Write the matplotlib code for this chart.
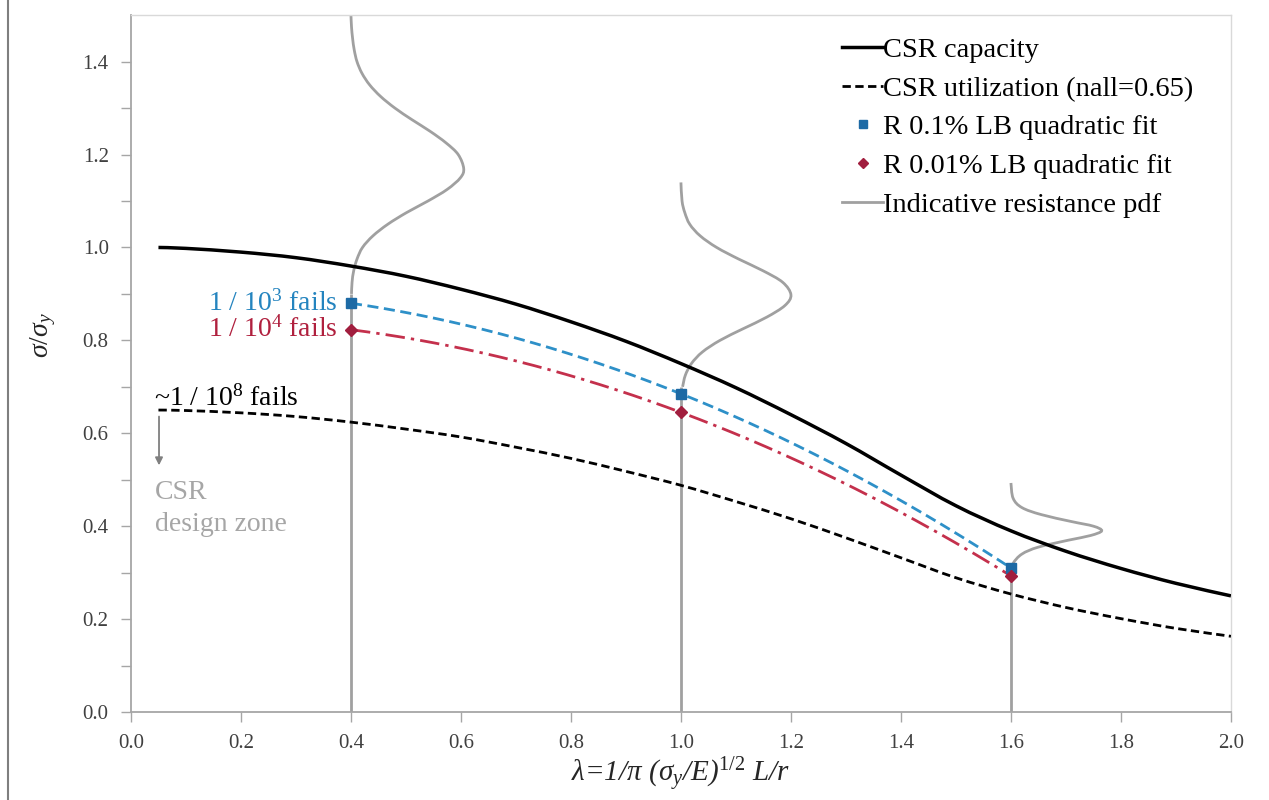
import numpy as np
import matplotlib
matplotlib.use("Agg")
import matplotlib.pyplot as plt
from matplotlib.lines import Line2D
from matplotlib.path import Path
from matplotlib.patches import PathPatch

plt.rcParams['font.family'] = ['Liberation Serif', 'DejaVu Serif']
plt.rcParams['mathtext.fontset'] = 'custom'
plt.rcParams['mathtext.rm'] = 'Liberation Serif'
plt.rcParams['mathtext.it'] = 'Liberation Serif:italic'
plt.rcParams['mathtext.bf'] = 'Liberation Serif:bold'

# Slenderness grid and CSR buckling curves
lam = [0.05, 0.1, 0.2, 0.3, 0.4, 0.5, 0.6, 0.7, 0.8, 0.9, 1.0,
       1.1, 1.2, 1.3, 1.4, 1.5, 1.6, 1.7, 1.8, 1.9, 2.0]
csr_capacity = [1.000, 0.998, 0.990, 0.978, 0.960, 0.938, 0.910, 0.878, 0.840, 0.798, 0.750,
                0.698, 0.640, 0.578, 0.510, 0.444, 0.390, 0.346, 0.309, 0.277, 0.250]
csr_utilization = [0.650, 0.649, 0.644, 0.636, 0.624, 0.609, 0.592, 0.570, 0.546, 0.518, 0.488,
                   0.453, 0.416, 0.375, 0.332, 0.289, 0.254, 0.225, 0.201, 0.180, 0.163]

# Lower-bound resistance points
lam_pts = [0.4, 1.0, 1.6]
r_01 = [0.880, 0.685, 0.310]
r_001 = [0.823, 0.645, 0.293]

# Indicative resistance pdfs: (sigma/sigma_y level, sideways offset in lambda)
pdf1_y = [0.900, 0.925, 0.950, 0.975, 1.000, 1.025, 1.050, 1.075, 1.100, 1.125, 1.150, 1.170,
          1.200, 1.225, 1.250, 1.275, 1.300, 1.325, 1.350, 1.375, 1.400, 1.425, 1.450, 1.475, 1.500]
pdf1_w = [0.001, 0.002, 0.005, 0.011, 0.021, 0.040, 0.067, 0.101, 0.140, 0.175, 0.199, 0.205,
          0.195, 0.173, 0.144, 0.111, 0.080, 0.054, 0.034, 0.020, 0.011, 0.006, 0.003, 0.001, 0.0]
pdf2_y = [0.700, 0.725, 0.750, 0.775, 0.800, 0.825, 0.850, 0.875, 0.898,
          0.925, 0.950, 0.975, 1.000, 1.025, 1.050, 1.075, 1.100, 1.140]
pdf2_w = [0.003, 0.008, 0.019, 0.039, 0.071, 0.113, 0.156, 0.189, 0.200,
          0.185, 0.149, 0.105, 0.065, 0.035, 0.016, 0.007, 0.002, 0.0]
pdf3_y = [0.300, 0.320, 0.340, 0.355, 0.370, 0.380, 0.390, 0.400, 0.410, 0.425, 0.440, 0.460, 0.493]
pdf3_w = [0.000, 0.004, 0.020, 0.050, 0.105, 0.145, 0.165, 0.150, 0.110, 0.055, 0.020, 0.004, 0.0]


def smooth_path(x, y):
    """Cubic Bezier path through the points (Catmull-Rom style smoothing)."""
    p = np.column_stack([x, y]).astype(float)
    ext = np.vstack([p[0], p, p[-1]])
    verts = [p[0]]
    codes = [Path.MOVETO]
    for i in range(len(p) - 1):
        p0, p1, p2, p3 = ext[i], ext[i + 1], ext[i + 2], ext[i + 3]
        c1 = p1 + (p2 - p0) / 6.0
        c2 = p2 - (p3 - p1) / 6.0
        verts += [c1, c2, p2]
        codes += [Path.CURVE4] * 3
    return Path(verts, codes)


def smooth_line(ax, x, y, **kw):
    patch = PathPatch(smooth_path(x, y), fill=False, **kw)
    ax.add_patch(patch)
    return patch


fig = plt.figure(figsize=(12.69, 8.0), dpi=100)
ax = fig.add_axes([0.1032, 0.110, 0.8668, 0.871])

grey_pdf = '#a0a0a0'
for base, ys, ws in [(lam_pts[0], pdf1_y, pdf1_w), (lam_pts[1], pdf2_y, pdf2_w),
                     (lam_pts[2], pdf3_y, pdf3_w)]:
    ax.plot([base, base], [0.0, ys[0]], color=grey_pdf, lw=2.0, zorder=2,
            solid_capstyle='butt')
    smooth_line(ax, base + np.asarray(ws), ys, edgecolor=grey_pdf, lw=2.0, zorder=2)

smooth_line(ax, lam, csr_capacity, edgecolor='black', lw=2.5, zorder=3)
smooth_line(ax, lam, csr_utilization, edgecolor='black', lw=2.0,
            linestyle=(0, (3.0, 1.6)), zorder=3)

# Quadratic fits through the lower-bound points
xf = np.linspace(lam_pts[0], lam_pts[-1], 200)
c01 = np.polyfit(lam_pts, r_01, 2)
c001 = np.polyfit(lam_pts, r_001, 2)
ax.plot(xf, np.polyval(c01, xf), color='#2e90c8', lw=2.0, ls=(0, (4.0, 2.0)), zorder=4)
ax.plot(xf, np.polyval(c001, xf), color='#c4304c', lw=2.0, ls=(0, (7.0, 2.2, 1.2, 2.2)), zorder=4)
ax.plot(lam_pts, r_01, ls='none', marker='s', ms=7, color='#1d6aa5', zorder=5)
ax.plot(lam_pts, r_001, ls='none', marker='D', ms=6, color='#a11e3e', zorder=5)

# Annotations
ax.text(0.376, r_01[0], r'1 / 10$^{3}$ fails', color='#2484bf', fontsize=20,
        ha='right', va='center')
ax.text(0.376, r_001[0], r'1 / 10$^{4}$ fails', color='#b0203e', fontsize=20,
        ha='right', va='center')
ax.text(0.042, 0.676, r'~1 / 10$^{8}$ fails', color='black', fontsize=20,
        ha='left', va='center')
ax.annotate('', xy=(0.051, 0.525), xytext=(0.051, 0.642),
            arrowprops=dict(arrowstyle='-|>', color='#808080', lw=1.3, mutation_scale=11))
ax.text(0.044, 0.438, 'CSR\ndesign zone', color='#a6a6a6', fontsize=20,
        ha='left', va='center', linespacing=1.33)

ax.set_xlim(0, 2.0)
ax.set_ylim(0, 1.5)
ax.set_xticks(np.arange(0, 2.01, 0.2))
ax.set_xticklabels([f'{v:.1f}' for v in np.arange(0, 2.01, 0.2)])
ax.set_yticks(np.arange(0, 1.41, 0.2))
ax.set_yticklabels([f'{v:.1f}' for v in np.arange(0, 1.41, 0.2)])
ax.set_yticks(np.arange(0, 1.41, 0.1), minor=True)
ax.tick_params(axis='both', which='both', direction='out', length=7, width=1.0,
               color='#a6a6a6', labelsize=15, labelcolor='#404040', pad=9)

for s in ['left', 'bottom']:
    ax.spines[s].set_color('#a6a6a6')
    ax.spines[s].set_linewidth(1.3)
for s in ['top', 'right']:
    ax.spines[s].set_color('#d9d9d9')
    ax.spines[s].set_linewidth(1.0)

ax.set_ylabel(r'$\sigma/\sigma_y$', fontsize=20, color='#262626')
ax.yaxis.set_label_coords(-0.066, 0.541)
ax.set_xlabel(r'$\lambda$=1/$\pi$ ($\sigma_y$/E)$^{1/2}$ L/r', fontsize=21,
              color='#262626', style='italic')
ax.xaxis.set_label_coords(0.5, -0.062)

handles = [
    Line2D([], [], color='black', lw=2.5),
    Line2D([], [], color='black', lw=2.0, ls=(0, (3.0, 1.6))),
    Line2D([], [], color='#1d6aa5', ls='none', marker='s', ms=6),
    Line2D([], [], color='#a11e3e', ls='none', marker='D', ms=5),
    Line2D([], [], color=grey_pdf, lw=2.0),
]
labels = ['CSR capacity', 'CSR utilization (nall=0.65)', 'R 0.1% LB quadratic fit',
          'R 0.01% LB quadratic fit', 'Indicative resistance pdf']
ax.legend(handles, labels, loc='upper left', bbox_to_anchor=(0.636, 0.985), frameon=False,
          fontsize=20.5, handlelength=1.45, handletextpad=0.0, labelspacing=0.45,
          borderaxespad=0.0)

fig.add_artist(plt.Line2D([8 / 1269, 8 / 1269], [0, 1], transform=fig.transFigure,
                          color='#7f7f7f', lw=1.5))

fig.savefig('out.png', dpi=100)
